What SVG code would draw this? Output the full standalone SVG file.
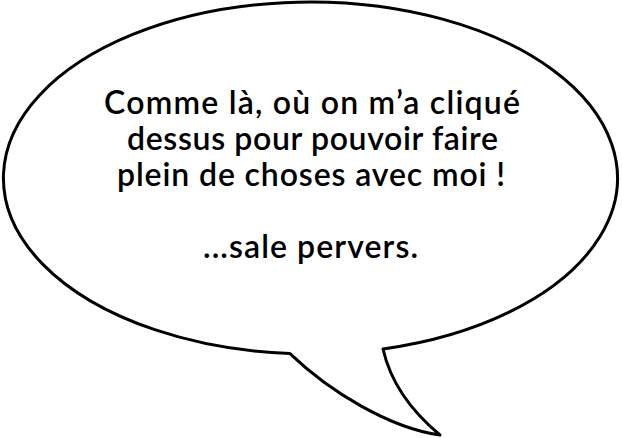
<svg xmlns="http://www.w3.org/2000/svg" width="622" height="438" viewBox="0 0 622 438">
<style>
.bubble{fill:#fff;stroke:#000;stroke-width:3;stroke-linejoin:round}
.t{font-family:Lato,"Liberation Sans",sans-serif;font-size:32px;font-weight:600;fill:#000;text-anchor:middle}
</style>
<rect width="622" height="438" fill="#fff"/>
<g id="bubble">
<path class="bubble" d="M 290 353.6 C 330 392 390 428 440 435 C 410 410 390 380 383 349 A 307 176 0 1 0 290 353.6 Z"/>
</g>
<g id="text">
<text class="t" x="312" y="114" textLength="416" lengthAdjust="spacing">Comme là, où on m’a cliqué</text>
<text class="t" x="312.5" y="150" textLength="371" lengthAdjust="spacing">dessus pour pouvoir faire</text>
<text class="t" x="311" y="186" textLength="388" lengthAdjust="spacing">plein de choses avec moi !</text>
<text class="t" x="310.5" y="258" textLength="215" lengthAdjust="spacing">...sale pervers.</text>
</g>
</svg>
